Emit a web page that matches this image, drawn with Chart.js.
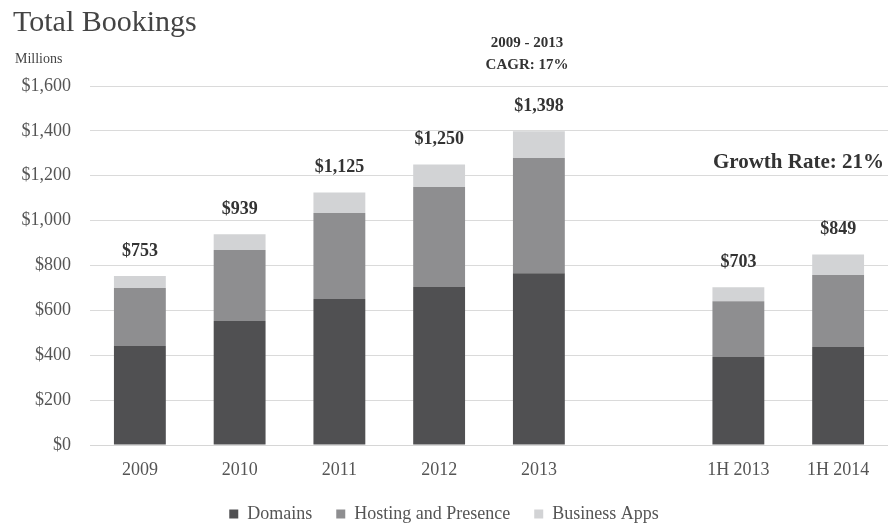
<!DOCTYPE html>
<html>
<head>
<meta charset="utf-8">
<script src="https://cdn.jsdelivr.net/npm/chart.js"></script>
<style>
    html, body { margin: 0; padding: 0; background: #ffffff; }
    #wrap { width: 888px; height: 523px; }
</style>
</head>
<body>
<div id="wrap"><canvas id="bookings" width="888" height="523"></canvas></div>
<script>
// values (millions of dollars)
const categories = ['2009', '2010', '2011', '2012', '2013', '', '1H 2013', '1H 2014'];
const domains = [441, 553, 651, 704, 766, null, 392, 437];
const hosting = [259, 316, 383, 446, 513, null, 249, 321];
const businessApps = [53, 70, 91, 100, 119, null, 62, 91];
const yTicks = [0, 200, 400, 600, 800, 1000, 1200, 1400, 1600];

const SERIF = "'Liberation Serif', 'DejaVu Serif', serif";

// titles, total labels and the two growth notes
const textPlugin = {
    id: 'bookingText',
    afterDatasetsDraw(chart) {
        const ctx = chart.ctx;
        const x = chart.scales.x;
        const y = chart.scales.y;
        ctx.save();

        ctx.fillStyle = '#444';
        ctx.textAlign = 'left';
        ctx.textBaseline = 'alphabetic';
        ctx.font = '30px ' + SERIF;
        ctx.fillText('Total Bookings', 13, 31);
        ctx.font = '14px ' + SERIF;
        ctx.fillText('Millions', 15, 63);

        // totals above every stack
        ctx.fillStyle = '#333';
        ctx.textAlign = 'center';
        ctx.textBaseline = 'middle';
        ctx.font = 'bold 18px ' + SERIF;
        categories.forEach((c, i) => {
            const total = (domains[i] || 0) + (hosting[i] || 0) + (businessApps[i] || 0);
            if (!total) return;
            ctx.fillText('$' + total.toLocaleString('en-US'), x.getPixelForValue(i), y.getPixelForValue(total) - 25);
        });

        ctx.font = 'bold 15px ' + SERIF;
        ctx.fillText('2009 - 2013', 527, 43);
        ctx.fillText('CAGR: 17%', 527, 65);

        ctx.textAlign = 'right';
        ctx.font = 'bold 21px ' + SERIF;
        ctx.fillText('Growth Rate: 21%', 884, 163);
        ctx.restore();
    }
};

new Chart(document.getElementById('bookings'), {
    type: 'bar',
    data: {
        labels: categories,
        datasets: [
            { label: 'Domains', data: domains, backgroundColor: '#505052' },
            { label: 'Hosting and Presence', data: hosting, backgroundColor: '#8e8e90' },
            { label: 'Business Apps', data: businessApps, backgroundColor: '#d2d3d5' }
        ]
    },
    options: {
        responsive: false,
        animation: false,
        devicePixelRatio: 1,
        layout: { padding: { top: 86, left: 0, right: 0, bottom: 0 } },
        datasets: {
            bar: { barPercentage: 0.52, categoryPercentage: 1, borderWidth: 0 }
        },
        plugins: {
            title: { display: false },
            tooltip: { enabled: false },
            legend: {
                position: 'bottom',
                maxHeight: 42,
                labels: {
                    boxWidth: 9,
                    boxHeight: 9,
                    padding: 24,
                    color: '#555',
                    font: { family: SERIF, size: 18 }
                }
            }
        },
        scales: {
            x: {
                stacked: true,
                grid: { display: false, drawTicks: false },
                border: { display: true, color: '#d6d6d6' },
                ticks: { color: '#555', padding: 14, font: { family: SERIF, size: 18 } },
                afterFit(scale) { scale.height = 36; }
            },
            y: {
                stacked: true,
                min: 0,
                max: 1600,
                afterBuildTicks(scale) { scale.ticks = yTicks.map(v => ({ value: v })); },
                grid: { color: '#dadada', drawTicks: false },
                border: { display: false },
                ticks: {
                    color: '#555',
                    padding: 19,
                    font: { family: SERIF, size: 18 },
                    callback: v => '$' + v.toLocaleString('en-US')
                },
                afterFit(scale) { scale.width = 90; }
            }
        }
    },
    plugins: [textPlugin]
});
</script>
</body>
</html>
